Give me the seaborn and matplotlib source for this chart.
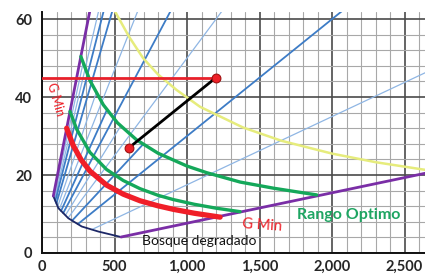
import numpy as np
import pandas as pd
import matplotlib
matplotlib.use("Agg")
import matplotlib.pyplot as plt
import seaborn as sns

sns.set_theme(style="white")
plt.rcParams['font.family'] = ['Lato', 'DejaVu Sans']

# ---------------- data ----------------
x_ticks = [0, 500, 1000, 1500, 2000, 2500]
x_tick_labels = ["0", "500", "1,000", "1,500", "2,000", "2,500"]
y_ticks = [0, 20, 40, 60]

upper_green_x = [268, 331, 423, 520, 653, 800, 1000, 1136, 1366, 1600, 1894]
upper_green_y = [50.4, 44.2, 38.0, 33.4, 29.0, 25.6, 22.3, 20.6, 18.2, 16.6, 14.9]
lower_green_x = [193, 240, 331, 446, 560, 676, 800, 906, 1050, 1200, 1366]
lower_green_y = [36.3, 31.7, 25.8, 21.4, 18.6, 16.5, 14.8, 13.7, 12.5, 11.5, 10.6]
gmin_x = [170, 215, 270, 331, 446, 560, 676, 800, 906, 1050, 1228]
gmin_y = [32.0, 27.6, 23.9, 21.0, 17.4, 15.1, 13.4, 12.1, 11.2, 10.2, 9.2]
yellow_x = [503, 600, 697, 800, 929, 1090, 1386, 1650, 2000, 2300, 2700]
yellow_y = [62.0, 55.5, 50.0, 45.8, 41.8, 37.5, 32.2, 28.8, 25.5, 23.3, 21.0]
navy_x = [78, 113, 182, 274, 389, 545]
navy_y = [14.6, 11.5, 8.9, 6.8, 5.5, 4.1]
purple_left_x = [78, 340]
purple_left_y = [14.6, 64.0]
purple_bottom_x = [545, 2700]
purple_bottom_y = [4.1, 20.9]
# long diameter lines (reach the chart border)
ray_slopes = [0.159, 0.146, 0.128, 0.094, 0.070, 0.050, 0.030, 0.0175]
ray_dark = [False, True, True, False, True, False, True, False]
# short diameter lines (stop at the upper stocking curve)
short_ray_slopes = [0.172, 0.110, 0.082, 0.060, 0.040]
short_ray_dark = [False, False, True, False, True]
target_x = [0, 1200]
target_y = [45, 45]
move_x = [600, 1200]
move_y = [27, 45]

# ---------------- figure ----------------
W, H = 425, 274
fig = plt.figure(figsize=(W / 100, H / 100), dpi=100)
ax = fig.add_axes([42 / W, 21 / H, 383 / W, (253 - 11.7) / H])
ax.set_xlim(0, 2641)
ax.set_ylim(0, 61.9)

ax.set_xticks(x_ticks)
ax.set_xticklabels(x_tick_labels)
ax.set_yticks(y_ticks)
ax.set_xticks(np.arange(0, 2700, 100), minor=True)
ax.set_yticks(np.arange(0, 64, 4), minor=True)
ax.grid(which='minor', color='#a8a8a8', lw=0.8)
ax.grid(which='major', color='#4a4a4a', lw=1.2)
ax.set_axisbelow(True)
ax.tick_params(which='minor', length=0)
ax.tick_params(which='major', length=3, width=1.2, color='#222222',
               direction='out', pad=2)
ax.tick_params(axis='y', pad=4)
for lab in ax.get_xticklabels() + ax.get_yticklabels():
    lab.set_fontsize(10.5)
    lab.set_fontweight('bold')
    lab.set_color('#262626')
for s in ['top', 'right']:
    ax.spines[s].set_visible(False)
for s in ['left', 'bottom']:
    ax.spines[s].set_color('#111111')
    ax.spines[s].set_linewidth(1.4)


def ray_start(k):
    for i in range(len(navy_x) - 1):
        x1, y1, x2, y2 = navy_x[i], navy_y[i], navy_x[i + 1], navy_y[i + 1]
        if y1 / x1 >= k >= y2 / x2:
            t = (k * x1 - y1) / ((y2 - y1) - k * (x2 - x1))
            return x1 + t * (x2 - x1)
    return navy_x[0]


def ray_end_on_green(k):
    gx = np.array(upper_green_x, float)
    f = np.array(upper_green_y, float) - k * gx
    return float(np.interp(0.0, f[::-1], gx[::-1]))


def draw_ray(k, dark, x1):
    x0 = ray_start(k)
    sns.lineplot(x=[x0, x1], y=[k * x0, k * x1], ax=ax, sort=False,
                 estimator=None, color='#3d7cc6' if dark else '#8fb6e4',
                 lw=1.3 if dark else 0.9, zorder=2)


for k, dark in zip(ray_slopes, ray_dark):
    draw_ray(k, dark, 70 / k)
for k, dark in zip(short_ray_slopes, short_ray_dark):
    draw_ray(k, dark, ray_end_on_green(k))

# yellow curve
sns.lineplot(x=yellow_x, y=yellow_y, ax=ax, sort=False, estimator=None,
             color='#e6ec7c', lw=1.8, zorder=2)
# navy lower envelope
sns.lineplot(x=navy_x, y=navy_y, ax=ax, sort=False, estimator=None,
             color='#1c2766', lw=1.3, zorder=3)
# purple boundaries
sns.lineplot(x=purple_left_x, y=purple_left_y, ax=ax, sort=False,
             estimator=None, color='#7a2ea6', lw=2.0, zorder=3)
sns.lineplot(x=purple_bottom_x, y=purple_bottom_y, ax=ax, sort=False,
             estimator=None, color='#7a2ea6', lw=2.0, zorder=3)
# stocking curves
sns.lineplot(x=upper_green_x, y=upper_green_y, ax=ax, sort=False,
             estimator=None, color='#14a85a', lw=2.4, zorder=4)
sns.lineplot(x=lower_green_x, y=lower_green_y, ax=ax, sort=False,
             estimator=None, color='#14a85a', lw=2.4, zorder=4)
sns.lineplot(x=gmin_x, y=gmin_y, ax=ax, sort=False, estimator=None,
             color='#f01e28', lw=3.8, zorder=4)
# target and move
sns.lineplot(x=target_x, y=target_y, ax=ax, sort=False, estimator=None,
             color='#e8202a', lw=2.0, zorder=5)
sns.lineplot(x=move_x, y=move_y, ax=ax, sort=False, estimator=None,
             color='#000000', lw=2.0, zorder=5)
sns.scatterplot(x=move_x, y=move_y, ax=ax, color='#ee2028', s=40,
                edgecolor='#a01010', linewidth=0.8, zorder=6, clip_on=False)

# texts
ax.text(92, 39.5, "G Min", color='#ee2028', fontsize=9, rotation=-74,
        ha='center', va='center', zorder=7)
ax.text(1520, 7.0, "G Min", color='#ee2028', fontsize=10.5, rotation=-4,
        ha='center', va='center', zorder=7)
ax.text(2117, 9.7, "Rango Optimo", color='#1ea562', fontsize=11.5,
        fontweight='bold', ha='center', va='center', zorder=7)
ax.text(1083, 3.0, "Bosque degradado", color='#111111', fontsize=10,
        ha='center', va='center', zorder=7)

fig.savefig("out.png", dpi=100)
